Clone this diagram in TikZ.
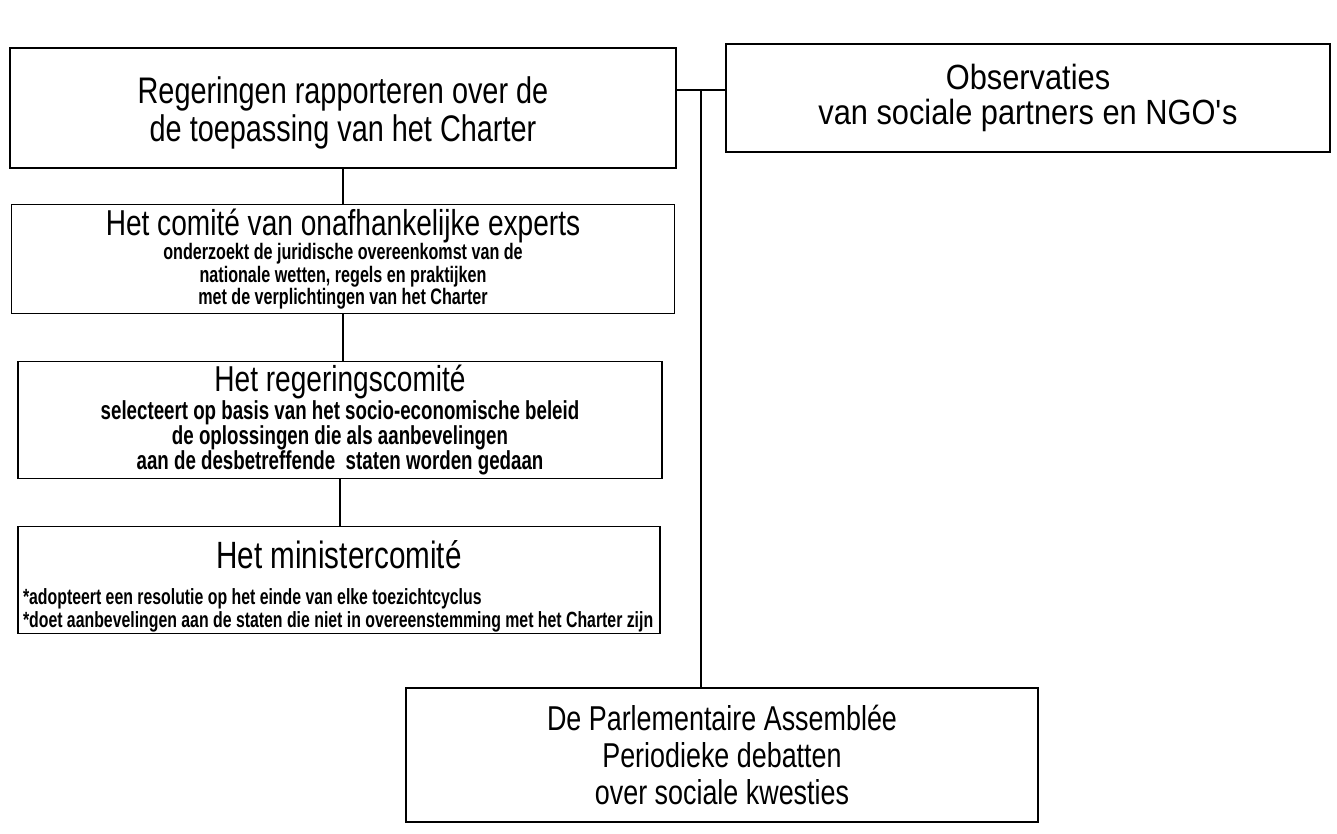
\documentclass[tikz,border=0pt]{standalone}
\usepackage{fontspec}
\setmainfont{Liberation Sans}[FakeStretch=0.78]
\newfontfamily\subfont{Liberation Sans}[FakeStretch=0.72, UprightFont={* Bold}]
\newfontfamily\obsfont{Liberation Sans}[FakeStretch=0.88]

\tikzset{
  box/.style={draw, line width=1.6pt, inner sep=4pt, align=center},
  link/.style={line width=1.6pt}
}
\newcommand{\titel}[1]{{\rmfamily\fontsize{36}{30}\selectfont #1}}

\begin{document}
\begin{tikzpicture}[x=1pt,y=-1pt]
\useasboundingbox (0,0) rectangle (1337,833);

\node[box, minimum width=666pt, minimum height=120pt,
  font=\fontsize{37}{38}\selectfont] (rapport) at (343,108)
  {\rule{0pt}{36pt}Regeringen rapporteren over de\\de toepassing van het Charter};

\node[box, minimum width=604pt, minimum height=108pt,
  font=\obsfont\fontsize{35}{34.5}\selectfont] (observ) at (1028,98)
  {Observaties\\van sociale partners en NGO\textquotesingle s};

\node[box, minimum width=663pt, minimum height=107pt,
  font=\subfont\fontsize{22.4}{22.5}\selectfont] (experts) at (343,259)
  {\titel{Het comit\'e van onafhankelijke experts}\\
   onderzoekt de juridische overeenkomst van de\\
   nationale wetten, regels en praktijken\\
   met de verplichtingen van het Charter};

\node[box, minimum width=644pt, minimum height=116pt,
  font=\subfont\fontsize{26}{25}\selectfont] (regering) at (340,420)
  {\titel{Het regeringscomit\'e}\\
   selecteert op basis van het socio-economische beleid\\
   de oplossingen die als aanbevelingen\\
   aan de desbetreffende~ staten worden gedaan};

\node[box, inner ysep=1pt, minimum width=642pt, minimum height=105pt,
  font=\subfont\fontsize{22}{23.5}\selectfont] (minister) at (339,580)
  {\rule{0pt}{41pt}{\rmfamily\fontsize{38}{30}\selectfont Het ministercomit\'e}\\[12pt]
   \makebox[632pt][l]{*adopteert een resolutie op het einde van elke toezichtcyclus}\\
   \makebox[632pt][l]{*doet aanbevelingen aan de staten die niet in overeenstemming met het Charter zijn}};

\node[box, minimum width=632pt, minimum height=134pt,
  font=\fontsize{34.5}{37}\selectfont] (assemblee) at (722,755)
  {De Parlementaire Assembl\'ee\\Periodieke debatten\\over sociale kwesties};

% verbindingen
\coordinate (knoop) at (701,90);
\draw[link] (rapport.east |- knoop) -- (observ.west |- knoop);
\draw[link] (knoop) -- (knoop |- assemblee.north);
\draw[link] (rapport.south) -- (rapport.south |- experts.north);
\draw[link] (experts.south) -- (experts.south |- regering.north);
\draw[link] (regering.south) -- (regering.south |- minister.north);
\end{tikzpicture}
\end{document}
